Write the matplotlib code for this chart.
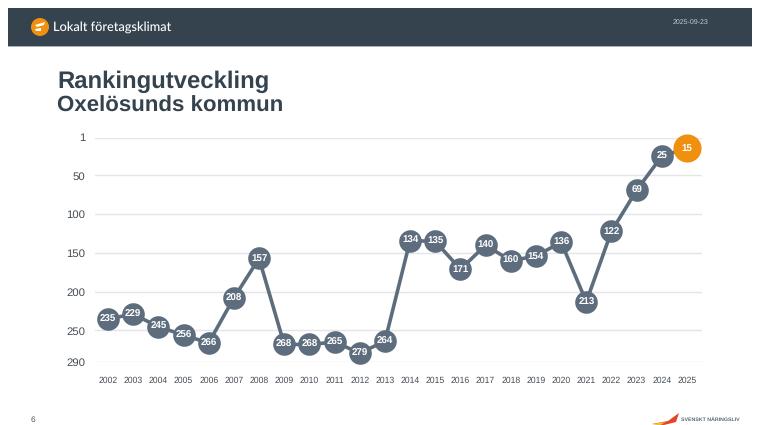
import matplotlib
matplotlib.use('Agg')
import matplotlib.pyplot as plt
from matplotlib.patches import Rectangle, Circle, Polygon

plt.rcParams['font.family'] = ['Liberation Sans', 'DejaVu Sans']
plt.rcParams['text.hinting'] = 'none'

years = list(range(2002, 2026))
rank = [235, 229, 245, 256, 266, 208, 157, 268, 268, 265, 279, 264,
        134, 135, 171, 140, 160, 154, 136, 213, 122, 69, 25, 15]
y_ticks = [1, 50, 100, 150, 200, 250, 290]

W, H = 760, 425
dark = '#35434f'
slate = '#5d6d7d'
orange = '#ef910f'

fig = plt.figure(figsize=(W / 100, H / 100), dpi=100, facecolor='white')

# bakgrund i pixelkoordinater
bg = fig.add_axes([0, 0, 1, 1])
bg.set_xlim(0, W)
bg.set_ylim(H, 0)
bg.axis('off')

bg.add_patch(Rectangle((8, 8), 744, 38, color=dark, lw=0))
bg.add_patch(Rectangle((8, 46), 744, 1.2, color='#a9b0b8', lw=0))
bg.add_patch(Circle((40, 27), 9, color=orange, lw=0))
bg.add_patch(Polygon([[35, 25], [45, 22], [44, 25], [37, 27]], color='white', lw=0))
bg.add_patch(Polygon([[35, 29], [41, 28], [41, 31], [36, 31]], color='white', lw=0))
bg.text(53, 27.5, 'Lokalt företagsklimat', color='white', fontsize=9.2,
        family='Lato', weight='medium', va='center')
bg.text(691, 22.5, '2025-09-23', color='#c5cad0', fontsize=5, va='center', ha='center')

bg.text(57, 82, 'Rankingutveckling', color=dark, fontsize=17.2, weight='bold', va='center')
bg.text(57, 106, 'Oxelösunds kommun', color=dark, fontsize=16, weight='bold', va='center')

bg.text(33, 420, '6', color='#555555', fontsize=6, ha='center', va='center')

# logga nere till höger
bg.add_patch(Polygon([[652, 424], [668, 421], [679, 413], [676, 422], [664, 425]],
                     color='#e2452a', lw=0))
bg.add_patch(Polygon([[652, 424], [666, 422], [660, 425]], color='#f6c21c', lw=0))
bg.text(681, 420, 'SVENSKT NÄRINGSLIV', color='#5a6570', fontsize=3.8,
        weight='bold', va='center')

# diagrammet
left, right, top, bottom = 95, 702, 137.5, 361.5
ax = fig.add_axes([left / W, 1 - bottom / H, (right - left) / W, (bottom - top) / H])
ax.patch.set_alpha(0)
step = (687 - 108) / 23
ax.set_xlim(2002 - (108 - left) / step, 2025 + (right - 687) / step)
ax.set_ylim(290, 1)

ax.set_yticks(y_ticks)
ax.set_xticks(years)
ax.tick_params(axis='both', length=0)
ax.tick_params(axis='y', labelsize=8.2, labelcolor='#444c54', pad=7)
ax.tick_params(axis='x', labelsize=6.2, labelcolor='#444c54', pad=11)
ax.grid(axis='y', color='#e2e5ea', lw=1)
ax.grid(axis='x', visible=False)
ax.set_axisbelow(True)
for s in ax.spines.values():
    s.set_visible(False)

ax.plot(years, rank, color=slate, lw=2.6, zorder=3, clip_on=False)
ax.scatter(years[:-1], rank[:-1], s=265, color=slate, linewidths=0, zorder=4, clip_on=False)
ax.scatter(years[-1:], rank[-1:], s=410, color=orange, linewidths=0, zorder=5, clip_on=False)

for x, v in zip(years, rank):
    ax.text(x, v, str(v), color='white', fontsize=7, weight='bold',
            ha='center', va='center', zorder=6)

fig.savefig('out.png', dpi=100)
